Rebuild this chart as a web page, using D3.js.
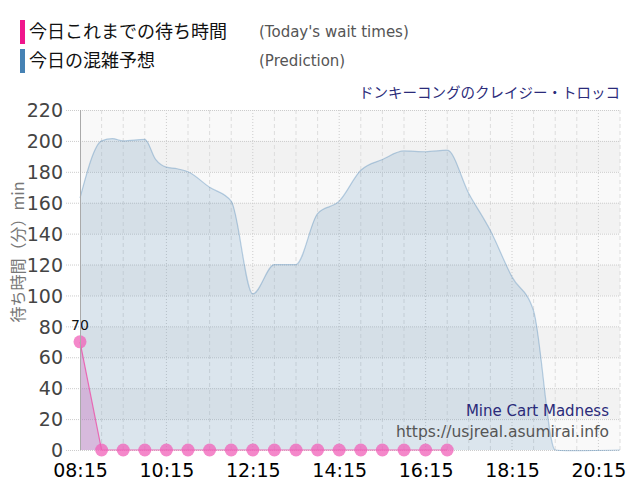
<!DOCTYPE html>
<html><head><meta charset="utf-8">
<script src="https://cdn.jsdelivr.net/npm/d3@7"></script>
<style>body{margin:0;background:#fff;}svg{display:block;}</style>
</head><body>
<svg id="c" width="640" height="500"></svg>
<script>
const predTimes = ["08:15","08:45","09:00","09:15","09:45","10:00","10:15","10:30","10:45","11:15","11:45","12:15","12:45","13:15","13:45","14:15","14:45","15:15","15:45","16:15","16:45","17:15","17:45","18:15","18:45","19:15","19:30","20:45"];
const predValues = [163,200,201.5,200,201,188,183,182,180,170,161,101,120,120,153,161,181,188,193.5,193,194,166,142,112,90,0,-0.5,0];
const waitTimes = ["08:15","08:45","09:15","09:45","10:15","10:45","11:15","11:45","12:15","12:45","13:15","13:45","14:15","14:45","15:15","15:45","16:15","16:45"];
const waitValues = [70,0,0,0,0,0,0,0,0,0,0,0,0,0,0,0,0,0];
const xTickLabels = ["08:15","10:15","12:15","14:15","16:15","18:15","20:15"];
const yTicks = [0,20,40,60,80,100,120,140,160,180,200,220];
const legendLabels = ["今日これまでの待ち時間","今日の混雑予想"];
const legendSub = ["(Today's wait times)","(Prediction)"];
const title = "ドンキーコングのクレイジー・トロッコ";

const toMin = s => { const [h,m] = s.split(":").map(Number); return h*60+m; };
const svg = d3.select("#c");
const L=80,R=620,T=110,B=450;
const x = d3.scaleLinear().domain([toMin("08:15"), toMin("20:45")]).range([L,R]);
const y = d3.scaleLinear().domain([0,220]).range([B,T]);
const font = "'DejaVu Sans', Verdana, sans-serif";
const jp = "'Noto Sans CJK JP', sans-serif";

// bands
for (let i=0;i<11;i++){
  svg.append("rect").attr("x",L).attr("width",R-L)
    .attr("y",y((i+1)*20)).attr("height",y(i*20)-y((i+1)*20))
    .attr("fill", i%2===0 ? "#f9f9f9" : "#f2f2f2");
}
// vertical grid every 30 min
const vt = d3.range(toMin("08:45"), toMin("20:45")+1, 30);
vt.forEach(t=>{
  const major = (t - toMin("08:15")) % 120 === 0;
  svg.append("line").attr("x1",x(t)).attr("x2",x(t)).attr("y1",T).attr("y2",B)
    .attr("stroke", major ? "#ccc" : "#ddd").attr("stroke-width",1)
    .attr("stroke-dasharray", major ? "1,2" : "4,3");
});
// horizontal grid
yTicks.forEach(v=>{
  svg.append("line").attr("x1",66).attr("x2",R).attr("y1",y(v)+0.5).attr("y2",y(v)+0.5)
    .attr("stroke","#ccc").attr("stroke-dasharray","1,1");
});

// prediction area
const pred = predTimes.map((t,i)=>({t:toMin(t),v:predValues[i]}));
const area = d3.area().x(d=>x(d.t)).y0(y(0)).y1(d=>y(d.v)).curve(d3.curveMonotoneX);
const line = d3.line().x(d=>x(d.t)).y(d=>y(d.v)).curve(d3.curveMonotoneX);
svg.append("path").datum(pred).attr("d",area).attr("fill","#4682b4").attr("fill-opacity",0.17);
svg.append("path").datum(pred).attr("d",line).attr("fill","none").attr("stroke","#4682b4").attr("stroke-opacity",0.35).attr("stroke-width",1.2);

// wait area
const wait = waitTimes.map((t,i)=>({t:toMin(t),v:waitValues[i]}));
const area2 = d3.area().x(d=>x(d.t)).y0(y(0)).y1(d=>y(d.v));
const line2 = d3.line().x(d=>x(d.t)).y(d=>y(d.v));
svg.append("path").datum(wait).attr("d",area2).attr("fill","#cc55bb").attr("fill-opacity",0.3);
svg.append("path").datum(wait).attr("d",line2).attr("fill","none").attr("stroke","#ee4fa8").attr("stroke-width",1.2).attr("stroke-opacity",0.8);
svg.selectAll("circle.w").data(wait).enter().append("circle").attr("class","w")
  .attr("cx",d=>x(d.t)).attr("cy",d=>y(d.v)).attr("r",6.5)
  .attr("fill","#f060b8").attr("fill-opacity",0.75);
svg.append("text").attr("x",x(wait[0].t)).attr("y",y(wait[0].v)-12).attr("text-anchor","middle")
  .attr("font-family",font).attr("font-size",14).attr("fill","#111").text(waitValues[0]);

// y axis line
svg.append("line").attr("x1",L+0.5).attr("x2",L+0.5).attr("y1",T).attr("y2",B).attr("stroke","#aaa");

// axes labels
const ya = d3.axisLeft(y).tickValues(yTicks).tickSize(0).tickPadding(0);
const gy = svg.append("g").attr("transform",`translate(${63},0)`).call(ya);
gy.select(".domain").remove();
gy.selectAll("text").attr("font-family",font).attr("font-size",19).attr("fill","#444").attr("dy","0.35em");
const xa = d3.axisBottom(x).tickValues(xTickLabels.map(toMin)).tickFormat((d,i)=>xTickLabels[i]).tickSize(0).tickPadding(0);
const gx = svg.append("g").attr("transform",`translate(0,${463})`).call(xa);
gx.select(".domain").remove();
gx.selectAll("text").attr("font-family",font).attr("font-size",19).attr("fill","#000").attr("dy","0.75em");

// y title
svg.append("text").attr("transform","translate(24,252) rotate(-90)").attr("text-anchor","middle")
  .attr("font-family",jp).attr("font-size",16).attr("fill","#777").text("待ち時間（分）min");

// legend
const legColors = ["#f0168c","#4682b4"];
legendLabels.forEach((l,i)=>{
  const yy = 20 + i*29;
  svg.append("rect").attr("x",20).attr("y",yy).attr("width",5).attr("height",24).attr("fill",legColors[i]);
  svg.append("text").attr("x",29).attr("y",yy+18).attr("font-family",jp).attr("font-size",18).attr("fill","#111").text(l);
  svg.append("text").attr("x",259).attr("y",yy+17).attr("font-family",font).attr("font-size",15).attr("fill","#555").text(legendSub[i]);
});
// title
svg.append("text").attr("x",620).attr("y",98).attr("text-anchor","end").attr("font-family",jp)
  .attr("font-size",14.5).attr("fill","#2b2b7a").text(title);
// watermark
svg.append("text").attr("x",609).attr("y",416).attr("text-anchor","end").attr("font-family",font)
  .attr("font-size",15).attr("fill","#2b2b7a").text("Mine Cart Madness");
svg.append("text").attr("x",609).attr("y",437).attr("text-anchor","end").attr("font-family",font)
  .attr("font-size",15.5).attr("fill","#555").text("https://usjreal.asumirai.info");
</script>
</body></html>
